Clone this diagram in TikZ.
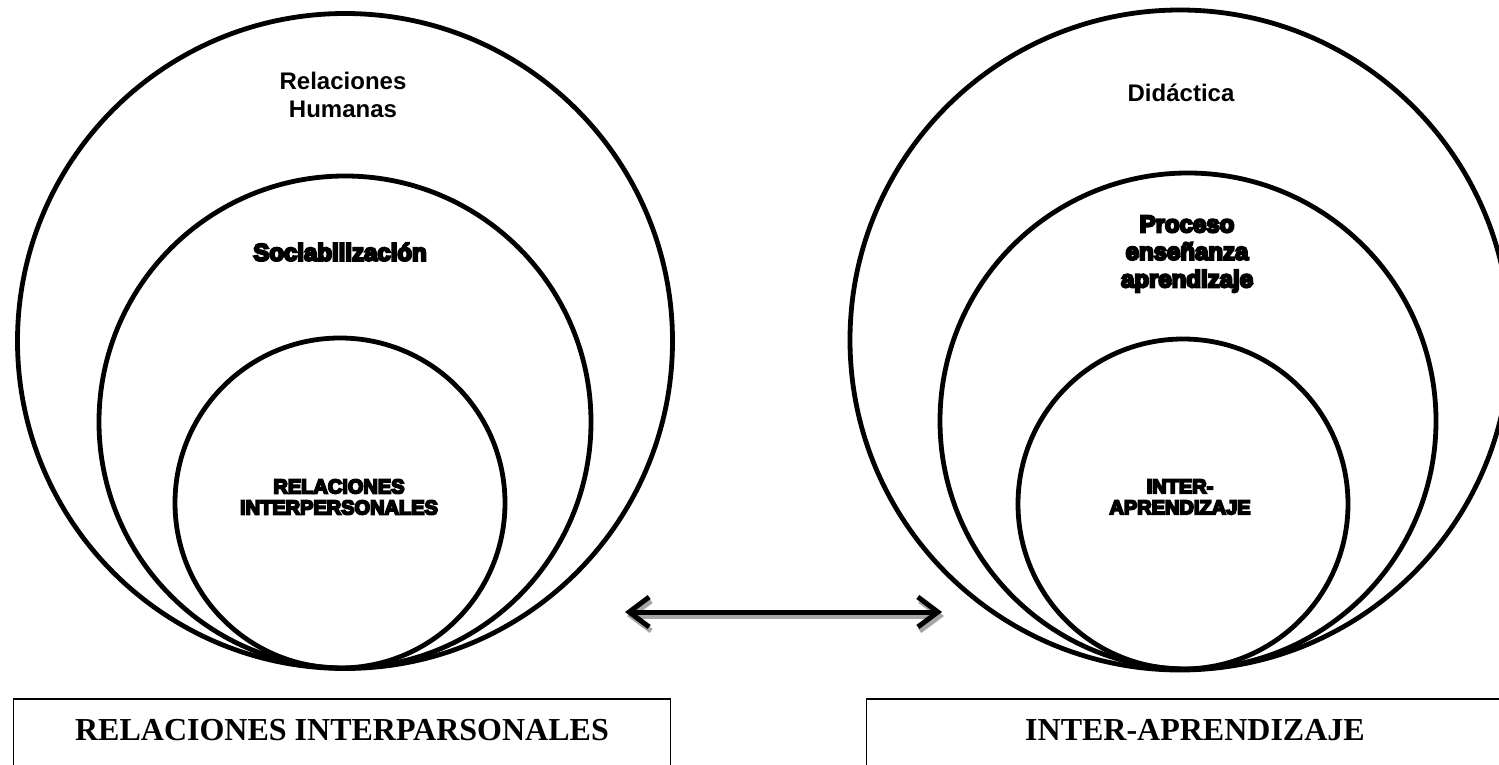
\documentclass[tikz,border=0pt]{standalone}
\usepackage{fontspec}
\setmainfont{Liberation Serif}
\newfontfamily\lblfont{Liberation Sans}
\newfontfamily\heavyfont[FakeBold=9]{Liberation Sans Bold}
\usetikzlibrary{positioning,arrows.meta}

\begin{document}
\begin{tikzpicture}[x=0.5pt, y=-0.5pt,
ring/.style ={circle, draw, line width=2.4pt, inner sep=0pt},
lbl/.style ={font=\lblfont\bfseries\fontsize{12}{14}\selectfont, align=center},
heavy/.style ={font=\heavyfont\fontsize{12}{13.75}\selectfont, align=center},
small/.style ={font=\heavyfont\fontsize{10}{10.5}\selectfont, align=center},
caja/.style ={draw, line width=0.8pt, anchor=base, minimum width=328.5pt,
  inner ysep=0pt, text height=20.5pt, text depth=30pt,
  font=\bfseries\fontsize{16}{18}\selectfont},
flecha/.style ={{Straight Barb[length=10pt,width=15pt]}-{Straight Barb[length=10pt,width=15pt]},
  line width=2.5pt, line join=round, line cap=round}]
\useasboundingbox (0,0) rectangle (1499,765);
% left circles
\node[ring, minimum size=327.5pt] (humL) at (345,341) {};
\node[ring, minimum size=246pt] (socL) at (345,422) {};
\node[ring, minimum size=165pt] (relL) at (340,503) {};
\node[lbl] (hum) at (343,95) {Relaciones\\Humanas};
\node[heavy] (soc) at (340,252) {Sociabilización};
\node[small] (rel) at (339,497) {RELACIONES\\INTERPERSONALES};
% right circles
\node[ring, minimum size=330pt] (didR) at (1180,340) {};
\node[ring, minimum size=248pt] (peaR) at (1188,421) {};
\node[ring, minimum size=165pt] (intR) at (1183,504) {};
\node[lbl] (did) at (1181,93) {Didáctica};
\node[heavy] (pea) at (1187,254) {Proceso\\enseñanza\\aprendizaje};
\node[small] (inter) at (1180,497) {INTER-\\APRENDIZAJE};
% arrow with shadow
\coordinate (aL) at (625,612);
\coordinate (aR) at (942,612);
\draw[flecha, black!35] ([shift={(2,4)}]aL) -- ([shift={(2,4)}]aR);
\draw[flecha] (aL) -- (aR);
% boxes
\node[caja] (boxL) at (342,740) {RELACIONES INTERPARSONALES};
\node[caja] (boxR) at (1195,740) {INTER-APRENDIZAJE};
\end{tikzpicture}
\end{document}
